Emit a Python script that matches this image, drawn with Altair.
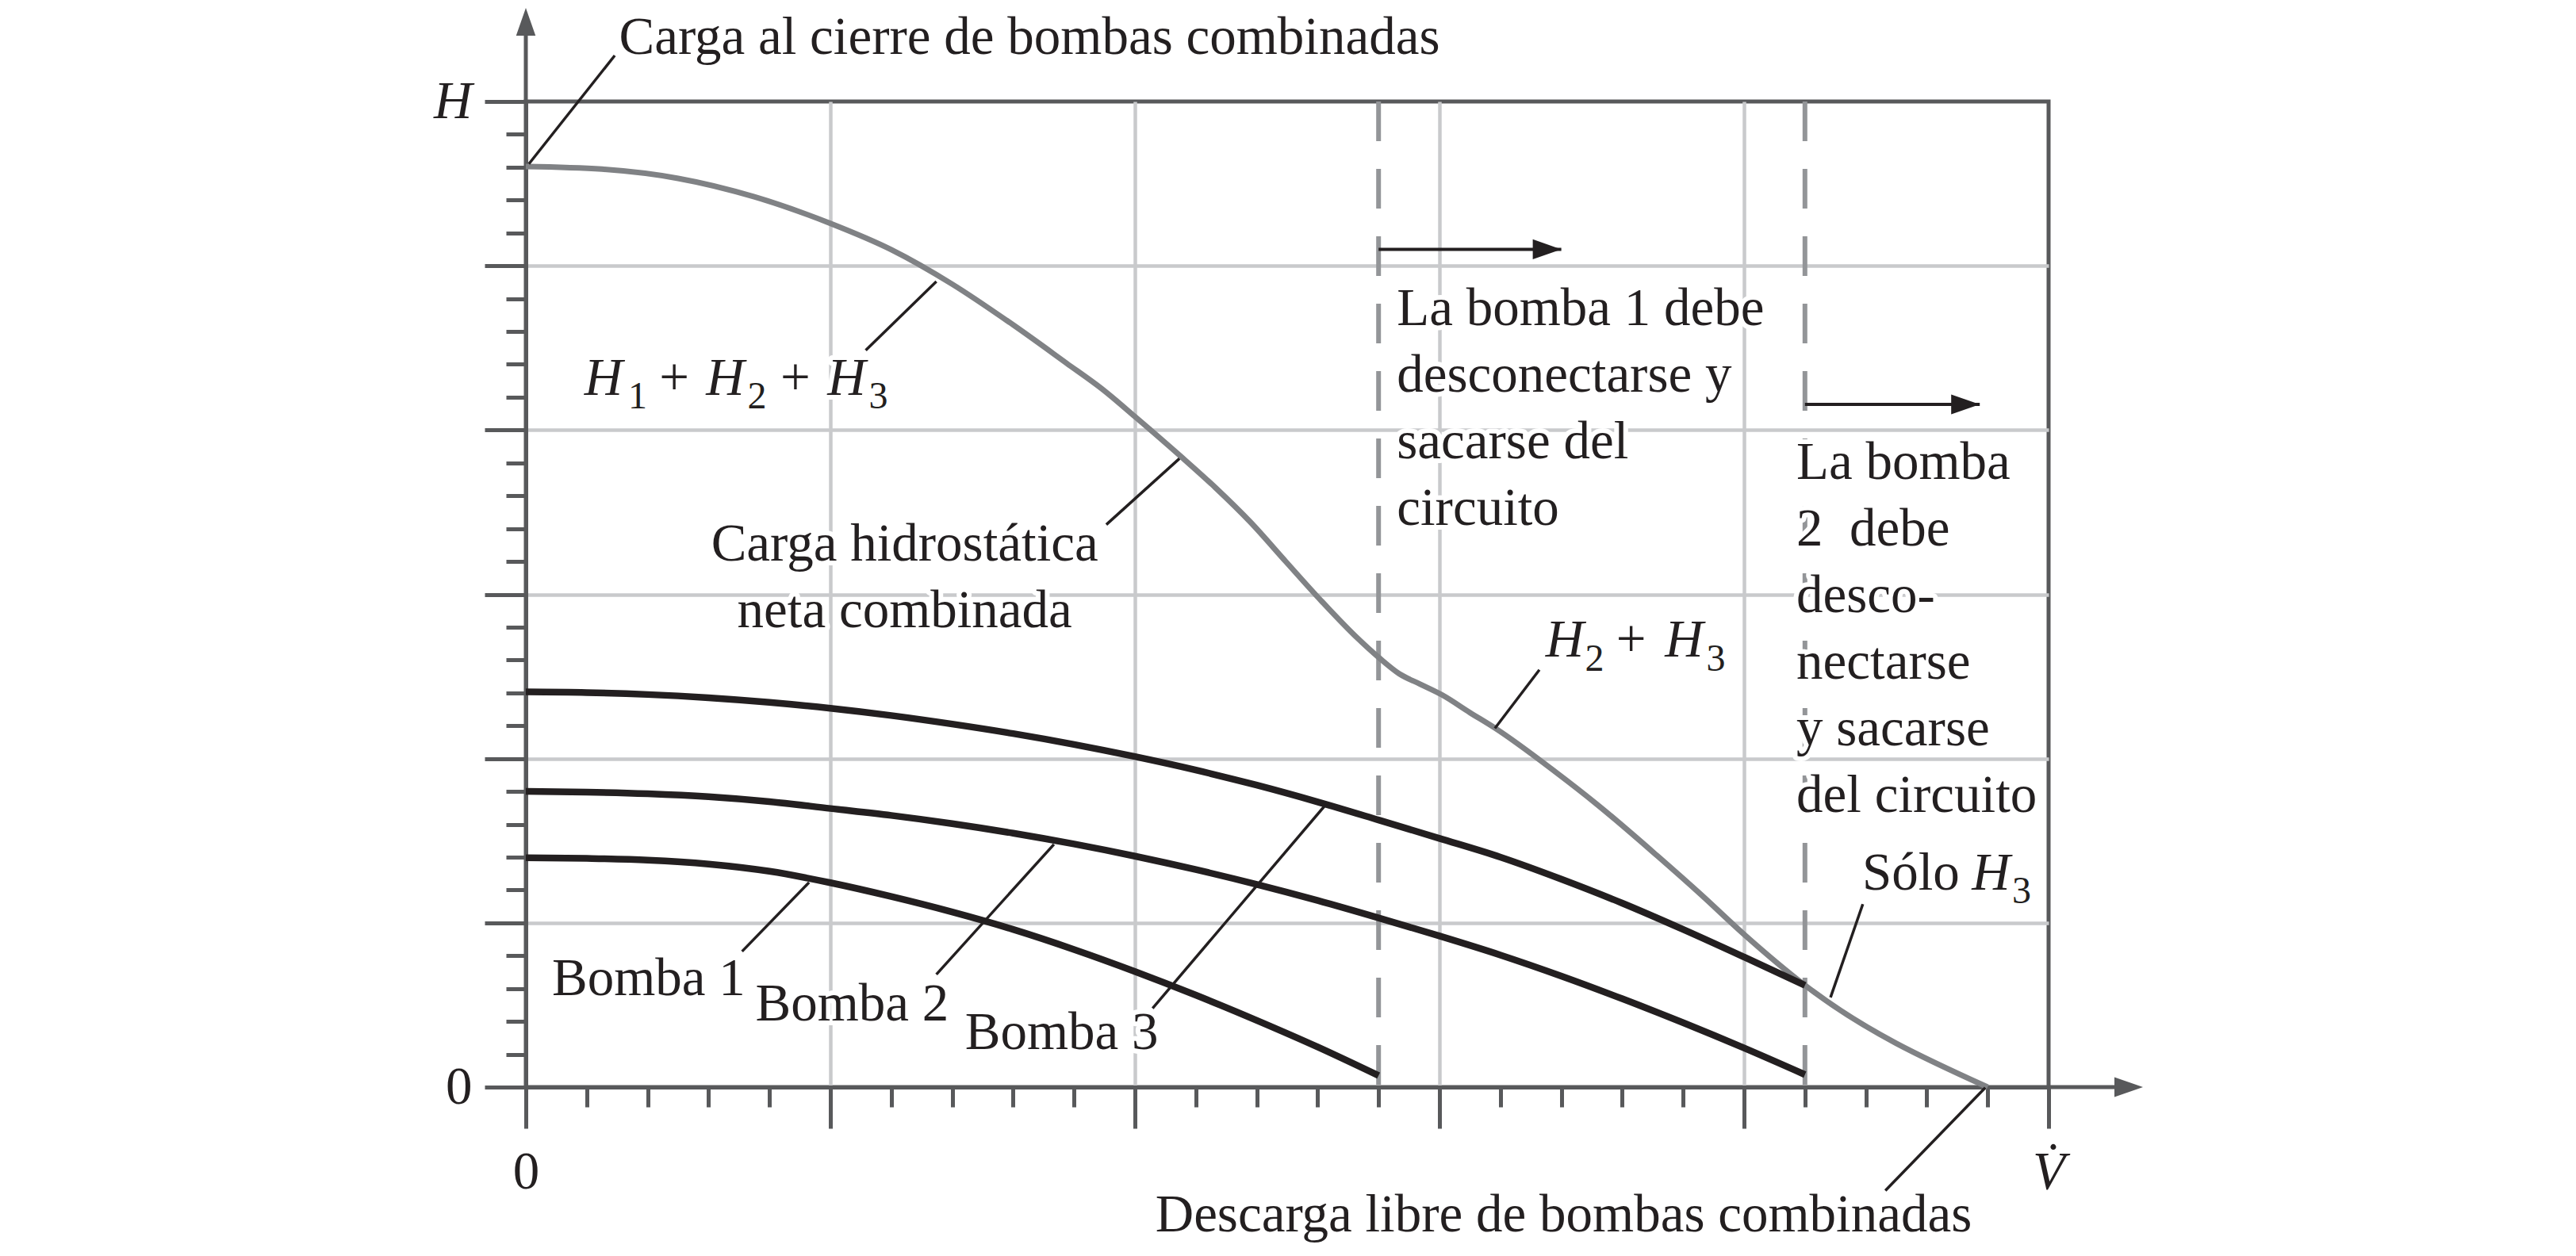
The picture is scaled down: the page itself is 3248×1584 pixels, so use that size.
import altair as alt
import pandas as pd

# ---------------- data ----------------
bomba1_q = [0, 1, 2, 3, 4, 5, 6, 7, 8, 9, 10, 11, 12, 13, 14]
bomba1_h = [6.98, 6.96, 6.91, 6.79, 6.57, 6.22, 5.8, 5.33, 4.8, 4.19, 3.52, 2.8, 2.03, 1.22, 0.35]

bomba2_q = list(range(22))
bomba2_h = [9.0, 8.98, 8.93, 8.84, 8.69, 8.48, 8.27, 8.02, 7.73, 7.40, 7.03, 6.62,
            6.17, 5.68, 5.15, 4.6, 4.02, 3.38, 2.69, 1.96, 1.19, 0.38]

bomba3_q = list(range(22))
bomba3_h = [12.03, 12.01, 11.95, 11.85, 11.71, 11.53, 11.31, 11.05, 10.76, 10.43, 10.06,
            9.65, 9.19, 8.68, 8.13, 7.57, 7.0, 6.33, 5.6, 4.8, 3.96, 3.1]

comb_q = [0, 1.25, 2.5, 3.75, 5, 6, 7, 8, 8.88, 9.46, 10, 10.74, 11.32, 11.9, 12.48,
          13.06, 13.64, 14.02, 14.34, 14.69, 15.04, 15.5, 15.91, 16.9, 17.57, 18.57,
          19.3, 20, 21, 24]
comb_h = [28.02, 27.94, 27.66, 27.1, 26.29, 25.49, 24.44, 23.2, 22.03, 21.25, 20.41,
          19.22, 18.25, 17.19, 15.99, 14.8, 13.69, 13.05, 12.58, 12.26, 11.94, 11.4,
          10.93, 9.6, 8.63, 7.05, 5.85, 4.65, 3.1, 0]

cut_q = [14, 21]                       # pumps switched off
arrow_q0 = [14, 21]
arrow_q1 = [17, 23.87]
arrow_h = [25.5, 20.78]

# leader lines: (q, h) on curve -> (q2, h2) at label
lead_q = [0.05, 6.74, 10.73, 15.91, 21.42, 4.65, 8.67, 13.11, 23.96]
lead_h = [28.1, 24.52, 19.13, 10.92, 2.73, 6.23, 7.39, 8.55, -0.02]
lead_q2 = [1.46, 5.58, 9.53, 16.64, 21.95, 3.55, 6.74, 10.29, 22.32]
lead_h2 = [31.4, 22.43, 17.12, 12.70, 5.57, 4.13, 3.43, 2.40, -3.15]

left_text = ["Carga al cierre de bombas combinadas",
             "La bomba 1 debe\ndesconectarse y\nsacarse del\ncircuito",
             "La bomba\n2\u00a0 debe\ndesco-\nnectarse\ny sacarse\ndel circuito",
             "Bomba 1", "Bomba 2", "Bomba 3", "Sólo"]
left_q = [1.53, 14.3, 20.86, 0.43, 3.77, 7.21, 21.94]
left_h = [31.45, 23.2, 18.5, 2.80, 2.03, 1.15, 6.01]

center_text = ["Carga hidrostática\nneta combinada"]
center_q = [6.22]
center_h = [16.03]

right_text = ["Descarga libre de bombas combinadas"]
right_q = [23.74]
right_h = [-4.40]

# formula pieces: italic H, "+" signs and subscripts
hsym_text = ["H", "H", "H", "H", "H", "H"]
hsym_q = [0.96, 2.96, 4.95, 16.74, 18.7, 23.74]
hsym_h = [21.07, 21.07, 21.07, 13.1, 13.1, 6.01]
plus_text = ["+", "+", "+"]
plus_q = [2.19, 4.18, 17.9]
plus_h = [21.07, 21.07, 13.1]
sub_text = ["1", "2", "3", "2", "3", "3"]
sub_q = [1.68, 3.64, 5.63, 17.39, 19.38, 24.4]
sub_h = [20.66, 20.66, 20.66, 12.66, 12.66, 5.6]

# ---------------- style ----------------
AX = "#58595b"
GRID = "#c9cacc"
INK = "#231f20"
GRAY = "#808285"
DASH = "#939598"
FONT = "Liberation Serif"
FS = 67
SUB = 48

xs = alt.Scale(domain=[0, 25], nice=False, zero=False)
ys = alt.Scale(domain=[0, 30], nice=False, zero=False)

x_axis = alt.Axis(
    values=list(range(26)), title=None, grid=True,
    gridColor=GRID, gridWidth=4.5,
    gridOpacity={"condition": {"test": "datum.value % 5 === 0 && datum.value > 0 && datum.value < 25", "value": 1}, "value": 0},
    domainColor=AX, domainWidth=5, tickColor=AX, tickWidth=5,
    tickSize={"condition": {"test": "datum.value % 5 === 0", "value": 52}, "value": 25},
    labelExpr="datum.value === 0 ? '0' : (datum.value === 25 ? 'V\u0307' : '')",
    labelFont=FONT, labelFontSize=FS, labelColor=INK,
    labelFontStyle={"condition": {"test": "datum.value === 25", "value": "italic"}, "value": "normal"},
    labelPadding=22, labelAngle=0, labelOverlap=False, labelFlush=False,
)
y_axis = alt.Axis(
    values=list(range(31)), title=None, grid=True,
    gridColor=GRID, gridWidth=4.5,
    gridOpacity={"condition": {"test": "datum.value % 5 === 0 && datum.value > 0 && datum.value < 30", "value": 1}, "value": 0},
    domainColor=AX, domainWidth=5, tickColor=AX, tickWidth=5,
    tickSize={"condition": {"test": "datum.value % 5 === 0", "value": 52}, "value": 25},
    labelExpr="datum.value === 0 ? '0' : (datum.value === 30 ? 'H' : '')",
    labelFont=FONT, labelFontSize=FS, labelColor=INK,
    labelFontStyle={"condition": {"test": "datum.value === 30", "value": "italic"}, "value": "normal"},
    labelPadding=16, labelOverlap=False, labelFlush=False,
)


def X(f="q"):
    return alt.X(f"{f}:Q", scale=xs, axis=x_axis)


def Y(f="h"):
    return alt.Y(f"{f}:Q", scale=ys, axis=y_axis)


def df(**cols):
    return pd.DataFrame(cols)


UP = "M-0.7,2L0,0L0.7,2Z"
RIGHT = "M-2,-0.7L0,0L-2,0.7Z"

layers = []

# dashed cut-off lines
layers.append(
    alt.Chart(df(q=cut_q, top=[30, 30], bot=[0, 0])).mark_rule(
        color=DASH, strokeWidth=6, strokeDash=[50, 35]
    ).encode(x=X(), y=alt.Y("top:Q", scale=ys, axis=y_axis), y2="bot:Q")
)

# axis arrow extensions
layers.append(
    alt.Chart(df(q=[0], h=[30], h2=[32.3])).mark_rule(color=AX, strokeWidth=5)
    .encode(x=X(), y=Y(), y2="h2:Q")
)
layers.append(
    alt.Chart(df(q=[25], q2=[26.2], h=[0])).mark_rule(color=AX, strokeWidth=5)
    .encode(x=X(), x2="q2:Q", y=Y())
)
layers.append(
    alt.Chart(df(q=[0], h=[32.85])).mark_point(shape=UP, size=1225, filled=True, color=AX, opacity=1, strokeWidth=0)
    .encode(x=X(), y=Y())
)
layers.append(
    alt.Chart(df(q=[26.55], h=[0])).mark_point(shape=RIGHT, size=1300, filled=True, color=AX, opacity=1, strokeWidth=0)
    .encode(x=X(), y=Y())
)

# text data frames
left_df = df(q=left_q, h=left_h, t=left_text)
center_df = df(q=center_q, h=center_h, t=center_text)
right_df = df(q=right_q, h=right_h, t=right_text)
hsym_df = df(q=hsym_q, h=hsym_h, t=hsym_text)
plus_df = df(q=plus_q, h=plus_h, t=plus_text)
sub_df = df(q=sub_q, h=sub_h, t=sub_text)


def text_layer(data, align, size=FS, style="normal", halo=False):
    kw = dict(font=FONT, fontSize=size, fontStyle=style, align=align,
              baseline="alphabetic", lineBreak="\n", lineHeight=84)
    if halo:
        kw.update(fill="white", stroke="white", strokeWidth=12, strokeJoin="round")
    else:
        kw.update(color=INK)
    return alt.Chart(data).mark_text(**kw).encode(x=X(), y=Y(), text="t:N")


text_specs = [
    (left_df, "left", FS, "normal"),
    (center_df, "center", FS, "normal"),
    (right_df, "right", FS, "normal"),
    (hsym_df, "left", FS, "italic"),
    (plus_df, "left", FS, "normal"),
    (sub_df, "left", SUB, "normal"),
]

# halos
for d, a, s, st in text_specs:
    layers.append(text_layer(d, a, s, st, halo=True))

# curves
layers.append(
    alt.Chart(df(q=comb_q, h=comb_h)).mark_line(color=GRAY, strokeWidth=7, interpolate="monotone")
    .encode(x=X(), y=Y())
)
for qq, hh in [(bomba1_q, bomba1_h), (bomba2_q, bomba2_h), (bomba3_q, bomba3_h)]:
    layers.append(
        alt.Chart(df(q=qq, h=hh)).mark_line(color=INK, strokeWidth=8.5, interpolate="monotone")
        .encode(x=X(), y=Y())
    )

# annotation arrows
layers.append(
    alt.Chart(df(q=arrow_q0, q2=arrow_q1, h=arrow_h)).mark_rule(color=INK, strokeWidth=4)
    .encode(x=X(), x2="q2:Q", y=Y())
)
layers.append(
    alt.Chart(df(q=arrow_q1, h=arrow_h)).mark_point(shape=RIGHT, size=1296, filled=True, color=INK, opacity=1, strokeWidth=0)
    .encode(x=X(), y=Y())
)

# leader lines
layers.append(
    alt.Chart(df(q=lead_q, h=lead_h, q2=lead_q2, h2=lead_h2)).mark_rule(color=INK, strokeWidth=3.5)
    .encode(x=X(), y=Y(), x2="q2:Q", y2="h2:Q")
)

# texts
for d, a, s, st in text_specs:
    layers.append(text_layer(d, a, s, st))

chart = alt.layer(*layers).properties(
    width=1920, height=1243,
    autosize=alt.AutoSizeParams(type="none"),
    padding={"left": 655, "top": 120, "right": 600, "bottom": 205},
    background="white",
).configure_view(stroke=AX, strokeWidth=5)

chart.save("out.html", embed_options={"renderer": "svg", "actions": False})
